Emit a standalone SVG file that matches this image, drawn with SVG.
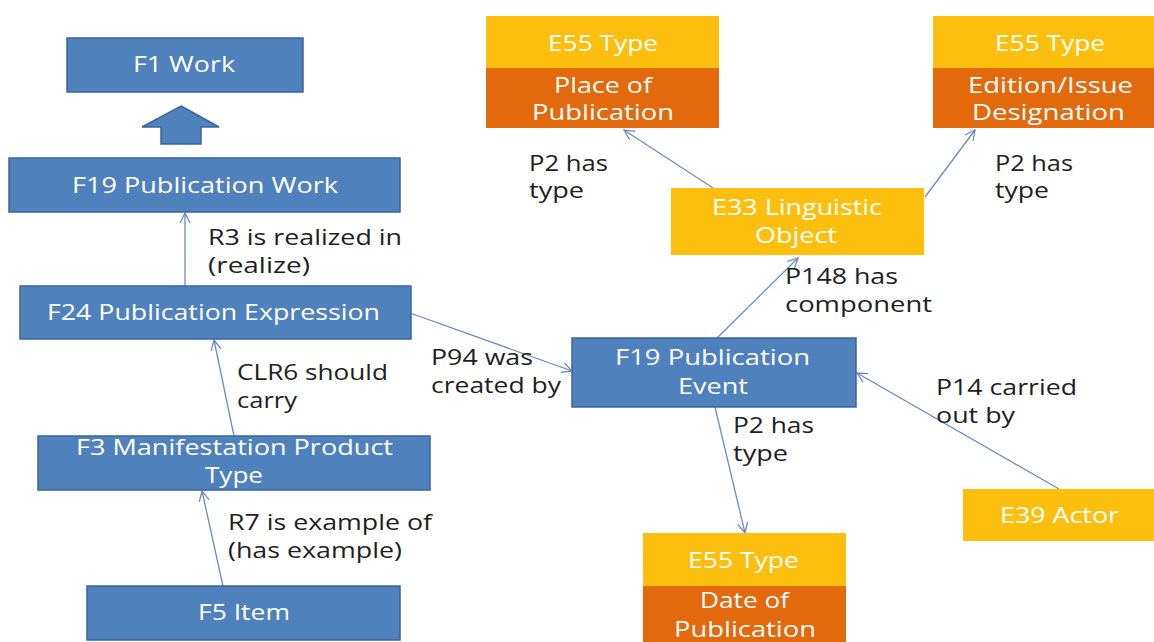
<svg xmlns="http://www.w3.org/2000/svg" width="1154" height="642" viewBox="0 0 1154 642">
<style>
.blue{fill:#4F81BD;stroke:#3A65A0;stroke-width:1.5}
.yel{fill:#FDBF0D}
.org{fill:#E2690C}
.bt{font-family:"Open Sans","Liberation Sans",sans-serif;font-size:21px;fill:#FFFFFF}
.lb{font-family:"Open Sans","Liberation Sans",sans-serif;font-size:21px;fill:#1E1E1E}
.con{stroke:#6A8CC0;stroke-width:1.3;fill:none}
</style>
<defs>
<marker id="ah" viewBox="0 0 12 12" refX="11" refY="6" markerWidth="12" markerHeight="12" markerUnits="userSpaceOnUse" orient="auto">
<path d="M1,1 L11,6 L1,11" fill="none" stroke="#6A8CC0" stroke-width="1.3"/>
</marker>
</defs>
<rect width="1154" height="642" fill="#FFFFFF"/>
<g id="connectors">
<line class="con" x1="185" y1="286" x2="185" y2="213" marker-end="url(#ah)"/>
<line class="con" x1="234" y1="436" x2="214" y2="340" marker-end="url(#ah)"/>
<line class="con" x1="223" y1="586" x2="202" y2="491" marker-end="url(#ah)"/>
<line class="con" x1="410" y1="313" x2="572" y2="371" marker-end="url(#ah)"/>
<line class="con" x1="717" y1="338" x2="798" y2="258" marker-end="url(#ah)"/>
<line class="con" x1="713" y1="188" x2="624" y2="130" marker-end="url(#ah)"/>
<line class="con" x1="925" y1="197" x2="975" y2="130" marker-end="url(#ah)"/>
<line class="con" x1="715" y1="407" x2="745" y2="533" marker-end="url(#ah)"/>
<line class="con" x1="1059" y1="489" x2="857" y2="373" marker-end="url(#ah)"/>
<polygon id="isa-arrow" class="blue" points="181,106 219,127 201,127 201,144 161,144 161,127 142,127"/>
</g>
<g id="labels">
<text class="lb" x="208" y="245" textLength="194" lengthAdjust="spacingAndGlyphs">R3 is realized in</text>
<text class="lb" x="208" y="273" textLength="102" lengthAdjust="spacingAndGlyphs">(realize)</text>
<text class="lb" x="237" y="380" textLength="151" lengthAdjust="spacingAndGlyphs">CLR6 should</text>
<text class="lb" x="237" y="408" textLength="60" lengthAdjust="spacingAndGlyphs">carry</text>
<text class="lb" x="228" y="530" textLength="204" lengthAdjust="spacingAndGlyphs">R7 is example of</text>
<text class="lb" x="228" y="558" textLength="174" lengthAdjust="spacingAndGlyphs">(has example)</text>
<text class="lb" x="431" y="365" textLength="102" lengthAdjust="spacingAndGlyphs">P94 was</text>
<text class="lb" x="431" y="393" textLength="130" lengthAdjust="spacingAndGlyphs">created by</text>
<text class="lb" x="529" y="171" textLength="79" lengthAdjust="spacingAndGlyphs">P2 has</text>
<text class="lb" x="529" y="198" textLength="55" lengthAdjust="spacingAndGlyphs">type</text>
<text class="lb" x="995" y="171" textLength="78" lengthAdjust="spacingAndGlyphs">P2 has</text>
<text class="lb" x="995" y="198" textLength="54" lengthAdjust="spacingAndGlyphs">type</text>
<text class="lb" x="785" y="284" textLength="113" lengthAdjust="spacingAndGlyphs">P148 has</text>
<text class="lb" x="785" y="312" textLength="147" lengthAdjust="spacingAndGlyphs">component</text>
<text class="lb" x="733" y="433" textLength="81" lengthAdjust="spacingAndGlyphs">P2 has</text>
<text class="lb" x="733" y="461" textLength="55" lengthAdjust="spacingAndGlyphs">type</text>
<text class="lb" x="936" y="395" textLength="141" lengthAdjust="spacingAndGlyphs">P14 carried</text>
<text class="lb" x="936" y="423" textLength="79" lengthAdjust="spacingAndGlyphs">out by</text>
</g>
<g id="f1-work">
<rect class="blue" x="67" y="38" width="236" height="54"/>
<text class="bt" x="133" y="72" textLength="102" lengthAdjust="spacingAndGlyphs">F1 Work</text>
</g>
<g id="f19-publication-work">
<rect class="blue" x="9" y="158" width="391" height="54"/>
<text class="bt" x="72" y="193" textLength="266" lengthAdjust="spacingAndGlyphs">F19 Publication Work</text>
</g>
<g id="f24-publication-expression">
<rect class="blue" x="20" y="286" width="391" height="53"/>
<text class="bt" x="47" y="320" textLength="333" lengthAdjust="spacingAndGlyphs">F24 Publication Expression</text>
</g>
<g id="f3-manifestation-product-type">
<rect class="blue" x="38" y="436" width="392" height="54"/>
<text class="bt" x="76" y="455" textLength="317" lengthAdjust="spacingAndGlyphs">F3 Manifestation Product</text>
<text class="bt" x="205" y="483" textLength="58" lengthAdjust="spacingAndGlyphs">Type</text>
</g>
<g id="f5-item">
<rect class="blue" x="87" y="586" width="313" height="54"/>
<text class="bt" x="198" y="620" textLength="92" lengthAdjust="spacingAndGlyphs">F5 Item</text>
</g>
<g id="f19-publication-event">
<rect class="blue" x="572" y="338" width="284" height="69"/>
<text class="bt" x="615" y="365" textLength="195" lengthAdjust="spacingAndGlyphs">F19 Publication</text>
<text class="bt" x="678" y="394" textLength="70" lengthAdjust="spacingAndGlyphs">Event</text>
</g>
<g id="e55-place-of-publication">
<rect class="yel" x="486" y="16" width="233" height="52"/>
<rect class="org" x="486" y="68" width="233" height="60"/>
<text class="bt" x="548" y="51" textLength="110" lengthAdjust="spacingAndGlyphs">E55 Type</text>
<text class="bt" x="554" y="93" textLength="98" lengthAdjust="spacingAndGlyphs">Place of</text>
<text class="bt" x="532" y="120" textLength="142" lengthAdjust="spacingAndGlyphs">Publication</text>
</g>
<g id="e55-edition-issue-designation">
<rect class="yel" x="933" y="16" width="221" height="52"/>
<rect class="org" x="933" y="68" width="221" height="60"/>
<text class="bt" x="995" y="51" textLength="110" lengthAdjust="spacingAndGlyphs">E55 Type</text>
<text class="bt" x="968" y="93" textLength="165" lengthAdjust="spacingAndGlyphs">Edition/Issue</text>
<text class="bt" x="972" y="120" textLength="153" lengthAdjust="spacingAndGlyphs">Designation</text>
</g>
<g id="e33-linguistic-object">
<rect class="yel" x="671" y="188" width="253" height="67"/>
<text class="bt" x="712" y="215" textLength="170" lengthAdjust="spacingAndGlyphs">E33 Linguistic</text>
<text class="bt" x="755" y="243" textLength="82" lengthAdjust="spacingAndGlyphs">Object</text>
</g>
<g id="e39-actor">
<rect class="yel" x="963" y="489" width="191" height="52"/>
<text class="bt" x="1000" y="523" textLength="119" lengthAdjust="spacingAndGlyphs">E39 Actor</text>
</g>
<g id="e55-date-of-publication">
<rect class="yel" x="643" y="533" width="203" height="53"/>
<rect class="org" x="643" y="586" width="203" height="56"/>
<text class="bt" x="688" y="568" textLength="111" lengthAdjust="spacingAndGlyphs">E55 Type</text>
<text class="bt" x="700" y="608" textLength="89" lengthAdjust="spacingAndGlyphs">Date of</text>
<text class="bt" x="674" y="637" textLength="142" lengthAdjust="spacingAndGlyphs">Publication</text>
</g>
</svg>
